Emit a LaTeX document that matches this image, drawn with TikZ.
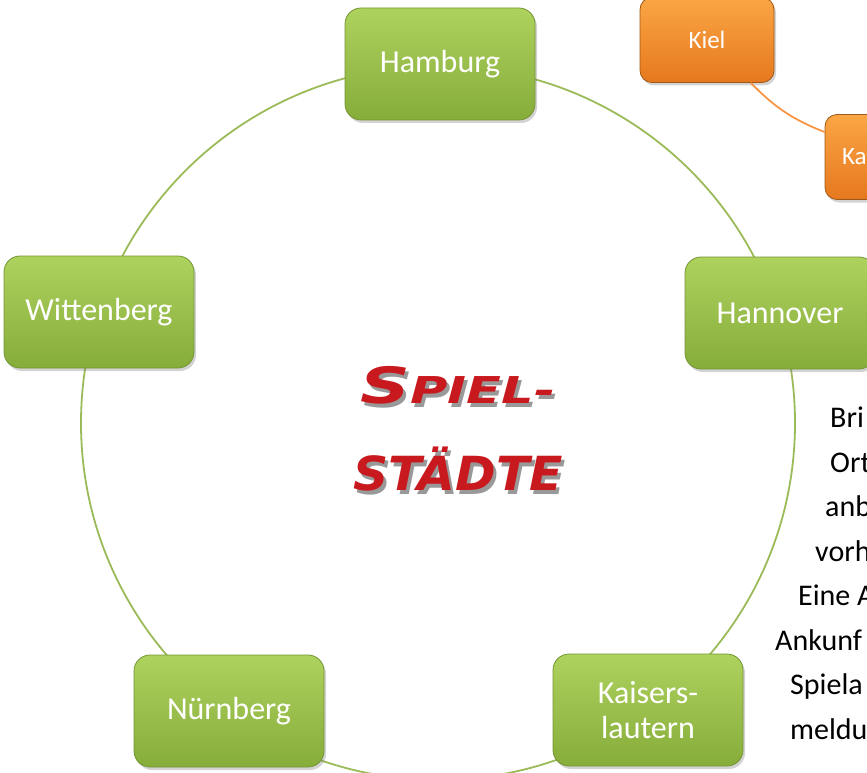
\documentclass[tikz,border=0pt]{standalone}
\usepackage{fontspec}
\setmainfont{Carlito}
\newfontfamily\brushfont{DejaVu Sans}
\usetikzlibrary{shadows}
\usetikzlibrary{positioning}

\definecolor{ringgreen}{RGB}{155,187,89}
\definecolor{boxtop}{RGB}{174,210,94}
\definecolor{boxbottom}{RGB}{134,172,58}
\definecolor{boxedge}{RGB}{116,150,52}
\definecolor{kieltop}{RGB}{250,166,68}
\definecolor{kielbottom}{RGB}{230,120,30}
\definecolor{kieledge}{RGB}{160,88,22}
\definecolor{linkorange}{RGB}{247,150,70}
\definecolor{spielred}{RGB}{200,26,30}

\newcommand{\titelA}{\scalebox{1.38}[1]{\brushfont\bfseries\itshape{\fontsize{50}{50}\selectfont S}\fontsize{37}{37}\selectfont PIEL-}}
\newcommand{\titelB}{\scalebox{1.04}[1]{\brushfont\bfseries\itshape\fontsize{47}{47}\selectfont STÄDTE}}

\tikzset{
  city/.style={draw=boxedge,line width=0.8pt,rounded corners=16pt,
    top color=boxtop,bottom color=boxbottom,
    minimum width=190pt,minimum height=112pt,inner sep=0pt,
    text=white,align=center,font=\fontsize{32}{35}\selectfont,
    drop shadow={opacity=0.35,shadow xshift=2pt,shadow yshift=-3pt}},
  coast/.style={city,draw=kieledge,top color=kieltop,bottom color=kielbottom,
    minimum width=134pt,minimum height=85pt,rounded corners=12pt,
    font=\fontsize{25}{30}\selectfont},
  ring/.style={draw=ringgreen,line width=1.8pt},
  link/.style={draw=linkorange,line width=1.8pt},
  notiz/.style={anchor=base west,inner sep=0pt,font=\fontsize{30}{36}\selectfont},
  titel/.style={anchor=base,inner sep=0pt}
}

\begin{document}
\begin{tikzpicture}[x=1pt,y=-1pt]
  \useasboundingbox (0,0) rectangle (867,773);
  \clip (0,0) rectangle (867,773);

  \coordinate (mitte) at (438,423);
  \draw[ring] (mitte) circle[radius=357];

  \node[coast] (kiel) at (707,40) {Kiel};
  \node[coast,text width=100pt,align=left] (ka) at (892,157) {Ka};
  \draw[link] (kiel) to[bend right=12] (ka);

  \node[city] (hamburg) at (440,64) {Hamburg};
  \node[city] (wittenberg) at (99,312) {Wittenberg};
  \node[city] (hannover) at (780,313) {Hannover};
  \node[city] (nuernberg) at (229,711) {Nürnberg};
  \node[city] (kaiserslautern) at (648,710) {Kaisers-\\lautern};

  % title in the middle
  \coordinate (t1) at (458,403);
  \coordinate (t2) at (458,490);
  \node[titel,text=black!40] at ([shift={(3,4)}]t1) {\titelA};
  \node[titel,text=black!40] at ([shift={(3,4)}]t2) {\titelB};
  \node[titel,text=spielred] (spiel) at (t1) {\titelA};
  \node[titel,text=spielred] (staedte) at (t2) {\titelB};

  % text on the right
  \node[notiz] (z1) at (830,427) {Bri};
  \node[notiz] (z2) at (830,472) {Ort};
  \node[notiz] (z3) at (825,516) {anb};
  \node[notiz] (z4) at (815,561) {vorh};
  \node[notiz] (z5) at (798,605) {Eine A};
  \node[notiz] (z6) at (775,650) {Ankunf};
  \node[notiz] (z7) at (790,694) {Spiela};
  \node[notiz] (z8) at (790,739) {meldu};
\end{tikzpicture}
\end{document}
